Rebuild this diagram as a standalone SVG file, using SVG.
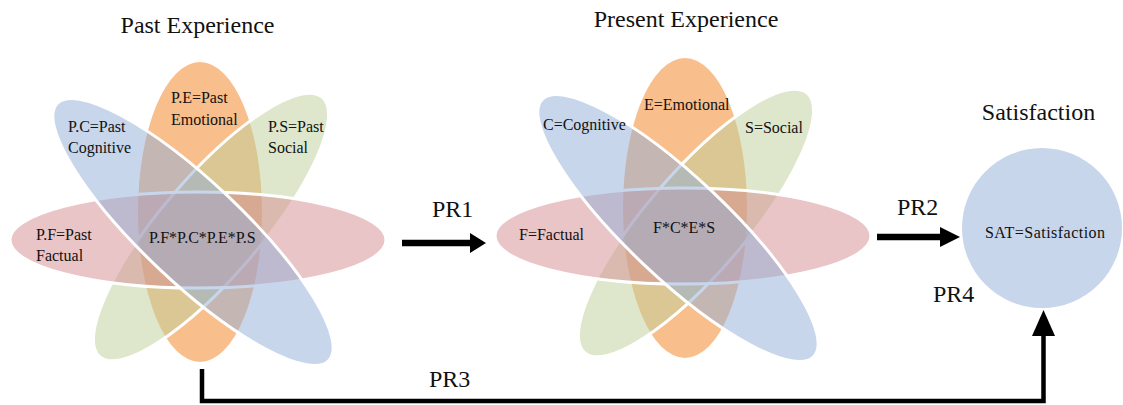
<svg xmlns="http://www.w3.org/2000/svg" xmlns:xlink="http://www.w3.org/1999/xlink" width="1123" height="405" viewBox="0 0 1123 405">
  <style>
    text { font-family: "Liberation Serif", "Times New Roman", serif; fill: #111; }
    .title { font-size: 24px; }
    .label { font-size: 16px; }
    .pr { font-size: 24px; }
    .orange { fill: #F17D19; fill-opacity: 0.5; stroke: none; }
    .green { fill: #BDCF99; fill-opacity: 0.5; stroke: #fff; stroke-width: 3; }
    .red { fill: #D58B8F; fill-opacity: 0.5; stroke: #fff; stroke-width: 3; }
    .blue { fill: #8FADD7; fill-opacity: 0.5; stroke: #fff; stroke-width: 3; }
    .sat { fill: #C7D6EB; stroke: none; }
    .link { fill: none; stroke: #000; stroke-linejoin: miter; }
    .head { fill: #000; stroke: none; }
  </style>
  <defs>
    <!-- four overlapping petals: emotional, social, factual, cognitive -->
    <g id="petals">
      <ellipse class="orange" cx="200" cy="212" rx="62" ry="150"/>
      <ellipse class="green" cx="211" cy="227" rx="171" ry="50" transform="rotate(-49.4 211 227)"/>
      <ellipse class="red" cx="198" cy="240" rx="188" ry="48"/>
      <ellipse class="blue" cx="193" cy="232" rx="187" ry="50" transform="rotate(43.4 193 232)"/>
    </g>
  </defs>

  <!-- Past experience -->
  <g id="past-experience">
    <text class="title" x="197.5" y="33" text-anchor="middle">Past Experience</text>
    <use xlink:href="#petals"/>
    <text class="label" x="171" y="103">P.E=Past</text>
    <text class="label" x="171" y="125">Emotional</text>
    <text class="label" x="68" y="132">P.C=Past</text>
    <text class="label" x="68" y="153">Cognitive</text>
    <text class="label" x="268" y="132">P.S=Past</text>
    <text class="label" x="268" y="153">Social</text>
    <text class="label" x="36" y="240">P.F=Past</text>
    <text class="label" x="36" y="261">Factual</text>
    <text class="label" x="149" y="243">P.F*P.C*P.E*P.S</text>
  </g>

  <!-- Present experience -->
  <g id="present-experience">
    <text class="title" x="686" y="27" text-anchor="middle">Present Experience</text>
    <use xlink:href="#petals" transform="translate(485 -4)"/>
    <text class="label" x="644" y="110">E=Emotional</text>
    <text class="label" x="543" y="130">C=Cognitive</text>
    <text class="label" x="745" y="133">S=Social</text>
    <text class="label" x="519" y="240">F=Factual</text>
    <text class="label" x="653" y="233">F*C*E*S</text>
  </g>

  <!-- Satisfaction -->
  <g id="satisfaction">
    <text class="title" x="1038.5" y="120" text-anchor="middle">Satisfaction</text>
    <circle class="sat" cx="1042" cy="228" r="80"/>
    <text class="label" x="985" y="238" textLength="120">SAT=Satisfaction</text>
  </g>

  <!-- Paths PR1 to PR4 -->
  <g id="connectors">
    <line class="link" x1="402" y1="243" x2="471" y2="243" stroke-width="6.5"/>
    <polygon class="head" points="470,233 486,243 470,253"/>
    <text class="pr" x="432" y="217">PR1</text>

    <line class="link" x1="877" y1="237" x2="941" y2="237" stroke-width="6.5"/>
    <polygon class="head" points="940,227 960,237 940,247"/>
    <text class="pr" x="897" y="215">PR2</text>

    <polyline class="link" points="202,369 202,401 1043.5,401 1043.5,335" stroke-width="4.5"/>
    <polygon class="head" points="1032,336 1043.5,310 1055,336"/>
    <text class="pr" x="429" y="387">PR3</text>
    <text class="pr" x="933" y="302">PR4</text>
  </g>
</svg>
